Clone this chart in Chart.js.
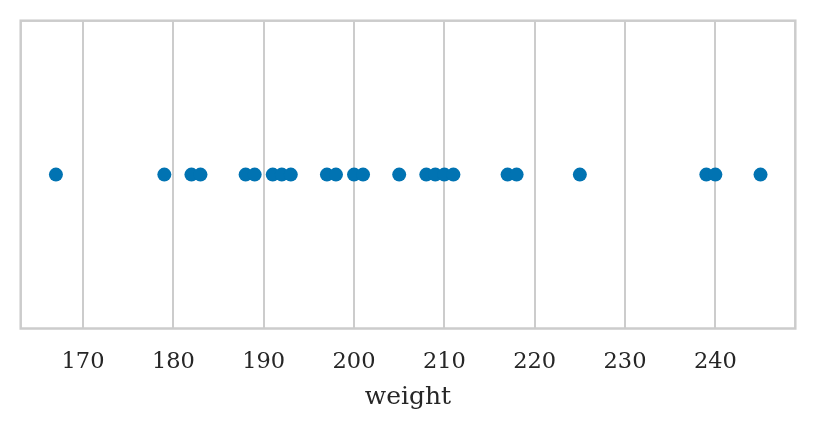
<!DOCTYPE html>
<html>
<head>
<meta charset="utf-8">
<script src="https://cdn.jsdelivr.net/npm/chart.js@4"></script>
<style>
  html, body { margin: 0; padding: 0; background: #fff; }
  #wrap { width: 814px; height: 432px; }
</style>
</head>
<body>
<div id="wrap"><canvas id="grafico" width="814" height="432"></canvas></div>
<script>
// ---------- Dados ----------
const weights = [167, 179, 182, 183, 188, 189, 191, 192, 193, 197, 198, 200, 201, 205,
                 208, 209, 210, 211, 217, 218, 225, 239, 240, 245];
const tickValues = [170, 180, 190, 200, 210, 220, 230, 240];
const xLabel = 'weight';
const xMin = 163.1, xMax = 248.85;

const GRID = '#cccccc';
const TEXT = '#262626';
const FONT = "'DejaVu Serif', serif";

// moldura em volta da área do gráfico
const frame = {
  id: 'frame',
  beforeDatasetsDraw(chart){
    const { ctx, chartArea: a } = chart;
    ctx.save();
    ctx.strokeStyle = GRID;
    ctx.lineWidth = 2.5;
    ctx.strokeRect(a.left, a.top, a.right - a.left, a.bottom - a.top);
    ctx.restore();
  }
};

new Chart(document.getElementById('grafico'), {
  type: 'scatter',
  data: {
    datasets: [{
      data: weights.map(w => ({ x: w, y: 0 })),
      backgroundColor: '#0173b2',
      borderWidth: 0,
      pointRadius: 7,
      pointHoverRadius: 7
    }]
  },
  options: {
    responsive: false,
    animation: false,
    layout: { padding: { left: 20.7, right: 18.7, top: 20.7, bottom: 0 } },
    plugins: { legend: { display: false }, tooltip: { enabled: false } },
    scales: {
      x: {
        type: 'linear',
        min: xMin,
        max: xMax,
        afterBuildTicks: (s) => { s.ticks = tickValues.map(v => ({ value: v })); },
        afterFit: (s) => { s.height = 103.5; },
        grid: { color: GRID, lineWidth: 2, drawTicks: false },
        border: { display: false },
        ticks: { color: TEXT, font: { family: FONT, size: 22.5 }, padding: 20, maxRotation: 0 },
        title: { display: true, text: xLabel, color: TEXT, font: { family: FONT, size: 25 }, padding: { top: 0, bottom: 20 } }
      },
      y: { display: false, min: -1, max: 1 }
    }
  },
  plugins: [frame]
});
</script>
</body>
</html>
